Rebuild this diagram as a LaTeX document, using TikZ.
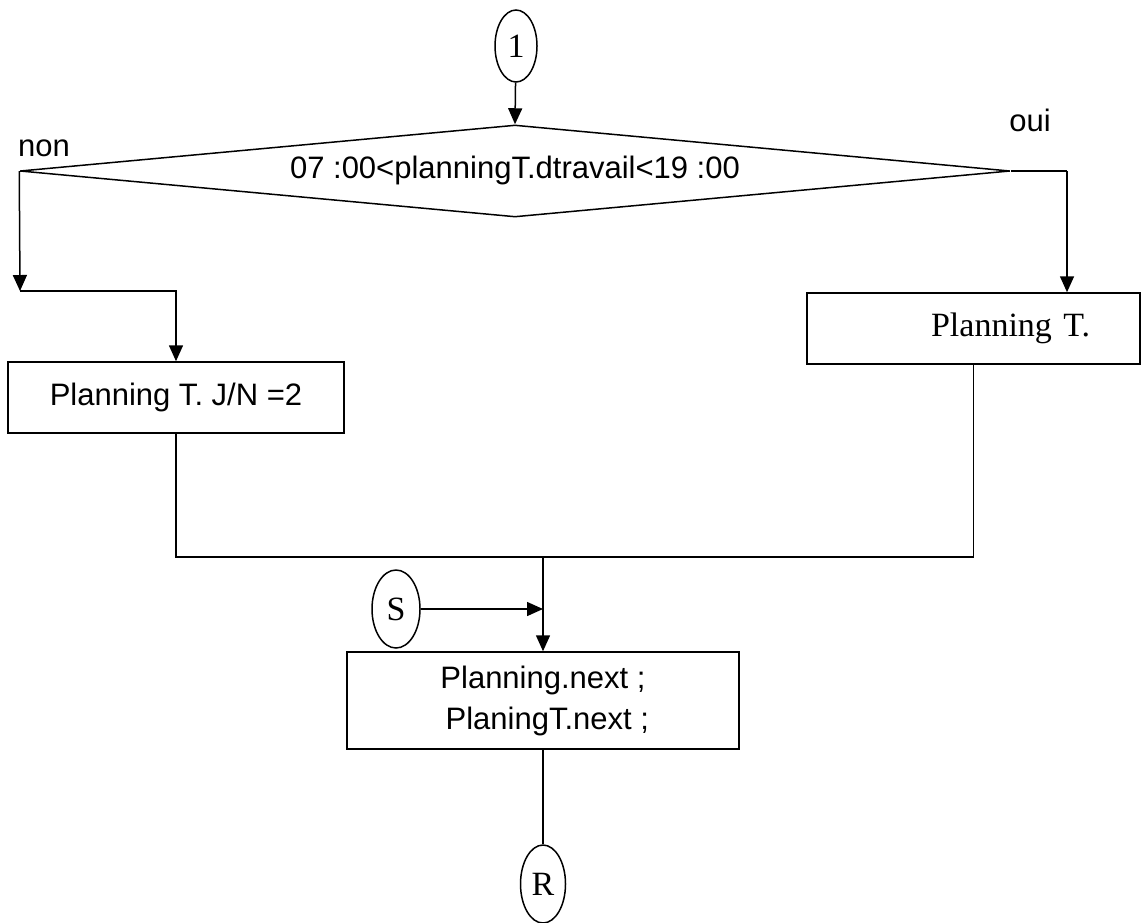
\documentclass[tikz,border=0pt]{standalone}
\usepackage{fontspec}
\setmainfont{Liberation Serif}
\setsansfont{Liberation Sans}
\usepackage{tikz}
\usetikzlibrary{positioning,arrows.meta,shapes.geometric,calc}

\begin{document}
\begin{tikzpicture}[
  x=0.5pt, y=-0.5pt,
  line width=0.75pt,
  font=\sffamily\fontsize{15.5pt}{20.5pt}\selectfont,
  box/.style={draw, rectangle, minimum height=35.5pt, inner sep=0pt, align=center},
  decision/.style={draw, diamond, aspect=10.76, minimum width=495pt,
                   minimum height=46pt, inner sep=0pt},
  conn/.style={draw, ellipse, inner sep=0pt, minimum width=22pt, minimum height=38pt,
               font=\rmfamily\fontsize{17pt}{20pt}\selectfont},
  arr/.style={-{Triangle[length=8pt,width=7pt]}},
  ]
  \useasboundingbox (0,0) rectangle (1143,922);

  % entree et test
  \node[conn, minimum width=21pt, minimum height=36pt] (one) at (516,46) {1};
  \node[decision] (test) at (515,171) {\raisebox{4pt}{07 :00<planningT.dtravail<19 :00}};
  \node (non) at (44,148) {non};
  \node (oui) at (1030,120) {oui};

  % branches
  \node[box, minimum width=168pt] (nonbox) at (176,397.5) {Planning T.\ J/N =2};
  \node[box, minimum width=166.5pt, text width=116.5pt, inner xsep=25pt, align=right,
        font=\rmfamily\fontsize{17pt}{20pt}\selectfont] (ouibox) at (973.5,328.5) {Planning T.};
  \node[box, minimum width=196pt, minimum height=48.5pt] (nextbox) at (543,700.5)
    {Planning.next ;\\ \ PlaningT.next ;};
  \node[conn, minimum width=24pt, minimum height=39pt] (S) at (396,609) {S};
  \node[conn, minimum width=22.5pt, minimum height=39pt] (R) at (543,884) {R};

  \coordinate (nonturn) at (20,291);
  \coordinate (ouiturn) at (1067,171);
  \coordinate (merge) at (543,557);

  \draw[arr] (one) -- (test.north);
  \draw[arr] (test.west) -- (nonturn);
  \draw[arr] (nonturn) -| (nonbox.north);
  \draw (test.east) -- (ouiturn);
  \draw[arr] (ouiturn) -- (ouiturn |- ouibox.north);
  \draw (nonbox.south) |- (merge) -| (ouibox.south);
  \draw[arr] (merge) -- (nextbox.north);
  \draw[arr] (S) -- (S -| merge);
  \draw (nextbox.south) -- (R);
\end{tikzpicture}
\end{document}
